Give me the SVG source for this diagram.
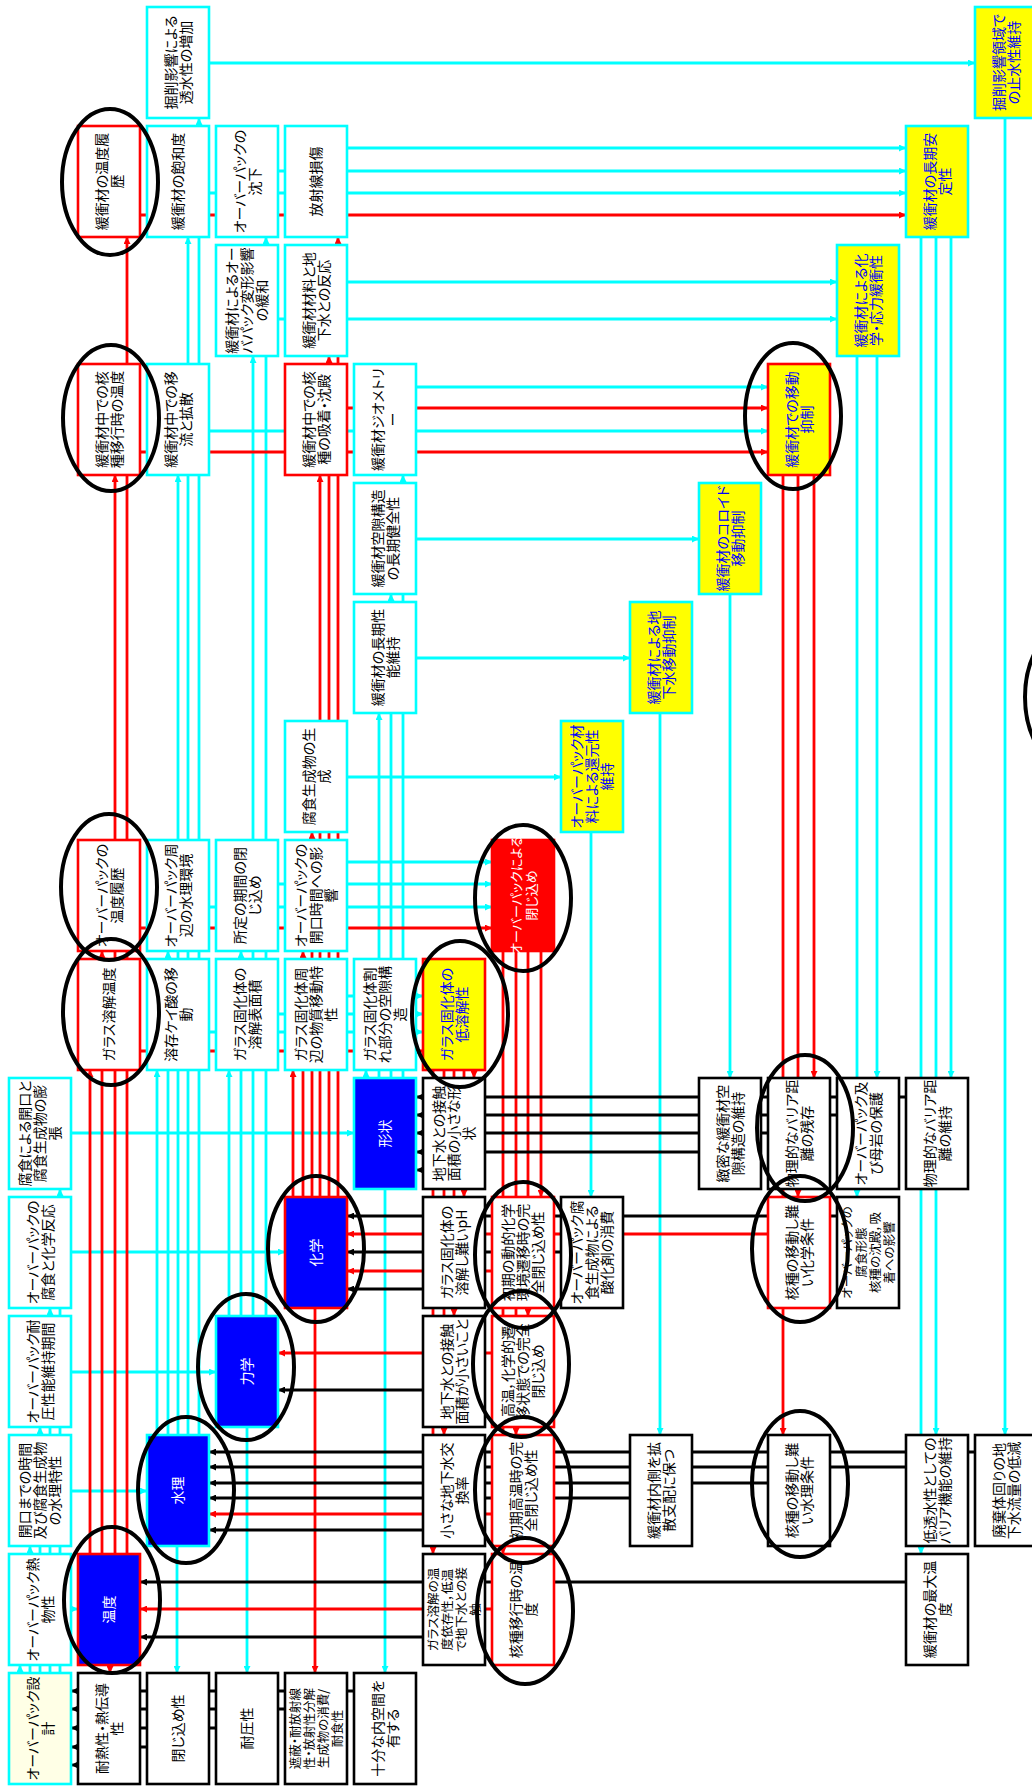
<svg xmlns="http://www.w3.org/2000/svg" width="1032" height="1786" viewBox="0 0 1032 1786">
<defs>
<style>
.bx{stroke-width:2.6}
.c{fill:#fff;stroke:#00FFFF}
.r{fill:#fff;stroke:#FF0000}
.k{fill:#fff;stroke:#000}
.y{fill:#FFFF00;stroke:#00FFFF}
.yr{fill:#FFFF00;stroke:#FF0000}
.bc{fill:#0000FF;stroke:#00FFFF}
.br{fill:#0000FF;stroke:#FF0000}
.rf{fill:#FF0000;stroke:#FF0000}
.py{fill:#FFFFE6;stroke:#00FFFF}
text{font-family:"Noto Sans CJK JP","Noto Sans CJK SC",sans-serif;font-size:14px;fill:#000;text-anchor:middle;font-feature-settings:"palt" 1}
.tb{fill:#0000FF}
.tw{fill:#fff}
.sm{font-size:12.5px}
.lc{fill:none;stroke:#00FFFF;stroke-width:2.8;marker-end:url(#ac)}
.lr{fill:none;stroke:#FF0000;stroke-width:2.8;marker-end:url(#ar)}
.lk{fill:none;stroke:#000;stroke-width:2.8;marker-end:url(#ak)}
.el{fill:none;stroke:#000;stroke-width:4}
</style>
<marker id="ac" viewBox="0 0 8 8" refX="8" refY="4" markerWidth="7" markerHeight="7" markerUnits="userSpaceOnUse" orient="auto"><path d="M0,0L8,4L0,8z" fill="#00FFFF"/></marker>
<marker id="ar" viewBox="0 0 8 8" refX="8" refY="4" markerWidth="7" markerHeight="7" markerUnits="userSpaceOnUse" orient="auto"><path d="M0,0L8,4L0,8z" fill="#FF0000"/></marker>
<marker id="ak" viewBox="0 0 8 8" refX="8" refY="4" markerWidth="7" markerHeight="7" markerUnits="userSpaceOnUse" orient="auto"><path d="M0,0L8,4L0,8z" fill="#000"/></marker>
</defs>
<rect width="1032" height="1786" fill="#fff"/>

<g id="connectors">
<!-- cyan horizontal -->
<path class="lc" d="M209,63H975"/>
<path class="lc" d="M347,148H906"/>
<path class="lc" d="M278,171H906"/>
<path class="lc" d="M209,193H906"/>
<path class="lc" d="M347,282H837"/>
<path class="lc" d="M278,319H837"/>
<path class="lc" d="M416,387H768"/>
<path class="lc" d="M209,431H768"/>
<path class="lc" d="M416,539H699"/>
<path class="lc" d="M416,658H630"/>
<path class="lc" d="M347,777H561"/>
<path class="lc" d="M347,862H492"/>
<path class="lc" d="M278,884H492"/>
<path class="lc" d="M209,907H492"/>
<path class="lc" d="M347,996H423"/>
<path class="lc" d="M278,1014H423"/>
<path class="lc" d="M209,1032H423"/>
<path class="lc" d="M71,1133H354"/>
<path class="lc" d="M71,1252H285"/>
<path class="lc" d="M71,1372H216"/>
<path class="lc" d="M71,1491H147"/>
<path class="lc" d="M71,1609H78"/>
<!-- cyan vertical -->
<path class="lc" d="M20,1673V1665"/>
<path class="lc" d="M30,1673V1546"/>
<path class="lc" d="M40,1673V1427"/>
<path class="lc" d="M50,1673V1308"/>
<path class="lc" d="M60,1673V1189"/>
<path class="lc" d="M157,1435V1070"/>
<path class="lc" d="M168,1435V951"/>
<path class="lc" d="M178,1435V475"/>
<path class="lc" d="M188,1435V237"/>
<path class="lc" d="M199,1435V118"/>
<path class="lc" d="M177,1546V1673"/>
<path class="lc" d="M229,1316V1070"/>
<path class="lc" d="M241,1316V951"/>
<path class="lc" d="M253,1316V356"/>
<path class="lc" d="M266,1316V237"/>
<path class="lc" d="M247,1427V1673"/>
<path class="lc" d="M366,1078V1070"/>
<path class="lc" d="M379,1078V713"/>
<path class="lc" d="M391,1078V594"/>
<path class="lc" d="M403,1078V475"/>
<path class="lc" d="M385,1189V1673"/>
<path class="lc" d="M591,832V1197"/>
<path class="lc" d="M660,713V1435"/>
<path class="lc" d="M730,594V1078"/>
<path class="lc" d="M877,356V1078"/>
<path class="lc" d="M857,356V1197"/>
<path class="lc" d="M951,237V1078"/>
<path class="lc" d="M936,237V1435"/>
<path class="lc" d="M921,237V1554"/>
<path class="lc" d="M1005,118V1435"/>
<!-- red -->
<path class="lr" d="M140,215H906"/>
<path class="lr" d="M347,408H768"/>
<path class="lr" d="M140,452H768"/>
<path class="lr" d="M140,928H492"/>
<path class="lr" d="M140,1051H423"/>
<path class="lr" d="M768,1234H347"/>
<path class="lr" d="M492,1271H347"/>
<path class="lr" d="M492,1353H278"/>
<path class="lr" d="M492,1514H209"/>
<path class="lr" d="M492,1609H140"/>
<path class="lr" d="M90,1554V1070"/>
<path class="lr" d="M102,1554V951"/>
<path class="lr" d="M115,1554V475"/>
<path class="lr" d="M127,1554V237"/>
<path class="lr" d="M110,1665V1673"/>
<path class="lr" d="M293,1197V1070"/>
<path class="lr" d="M303,1197V951"/>
<path class="lr" d="M312,1197V832"/>
<path class="lr" d="M320,1197V475"/>
<path class="lr" d="M329,1197V356"/>
<path class="lr" d="M338,1197V237"/>
<path class="lr" d="M315,1308V1673"/>
<path class="lr" d="M474,1070V1078"/>
<path class="lr" d="M464,1070V1197"/>
<path class="lr" d="M454,1070V1316"/>
<path class="lr" d="M444,1070V1435"/>
<path class="lr" d="M433,1070V1554"/>
<path class="lr" d="M541,951V1197"/>
<path class="lr" d="M528,951V1316"/>
<path class="lr" d="M516,951V1435"/>
<path class="lr" d="M503,951V1554"/>
<path class="lr" d="M814,475V1078"/>
<path class="lr" d="M798,475V1197"/>
<path class="lr" d="M783,475V1435"/>
<!-- black -->
<path class="lk" d="M906,1097H416"/>
<path class="lk" d="M837,1115H416"/>
<path class="lk" d="M768,1133H416"/>
<path class="lk" d="M699,1152H416"/>
<path class="lk" d="M423,1170H416"/>
<path class="lk" d="M837,1216H347"/>
<path class="lk" d="M561,1252H347"/>
<path class="lk" d="M423,1289H347"/>
<path class="lk" d="M423,1390H278"/>
<path class="lk" d="M975,1452H209"/>
<path class="lk" d="M906,1467H209"/>
<path class="lk" d="M768,1483H209"/>
<path class="lk" d="M630,1498H209"/>
<path class="lk" d="M423,1530H209"/>
<path class="lk" d="M906,1582H140"/>
<path class="lk" d="M423,1637H140"/>
<path class="lk" d="M354,1691H71"/>
<path class="lk" d="M285,1709H71"/>
<path class="lk" d="M216,1728H71"/>
<path class="lk" d="M147,1747H71"/>
<path class="lk" d="M78,1765H71"/>
</g>

<g id="n_r0c2"><rect class="bx c" x="147" y="7" width="62" height="111"/><text transform="rotate(-90 178 62.5)"><tspan x="178" y="60">掘削影響による</tspan><tspan x="178" y="75">透水性の増加</tspan></text></g>
<g id="n_r0c14"><rect class="bx y" x="975" y="7" width="62" height="111"/><text class="tb" transform="rotate(-90 1006 62.5)"><tspan x="1006" y="60">掘削影響領域で</tspan><tspan x="1006" y="75">の止水性維持</tspan></text></g>

<g id="n_r1c1"><rect class="bx r" x="78" y="126" width="62" height="111"/><text transform="rotate(-90 109 181.5)"><tspan x="109" y="179">緩衝材の温度履</tspan><tspan x="109" y="194">歴</tspan></text></g>
<g id="n_r1c2"><rect class="bx c" x="147" y="126" width="62" height="111"/><text transform="rotate(-90 178 181.5)"><tspan x="178" y="186.5">緩衝材の飽和度</tspan></text></g>
<g id="n_r1c3"><rect class="bx c" x="216" y="126" width="62" height="111"/><text transform="rotate(-90 247 181.5)"><tspan x="247" y="179">オーバーパックの</tspan><tspan x="247" y="194">沈下</tspan></text></g>
<g id="n_r1c4"><rect class="bx c" x="285" y="126" width="62" height="111"/><text transform="rotate(-90 316 181.5)"><tspan x="316" y="186.5">放射線損傷</tspan></text></g>
<g id="n_r1c13"><rect class="bx y" x="906" y="126" width="62" height="111"/><text class="tb" transform="rotate(-90 937 181.5)"><tspan x="937" y="179">緩衝材の長期安</tspan><tspan x="937" y="194">定性</tspan></text></g>

<g id="n_r2c3"><rect class="bx c" x="216" y="245" width="62" height="111"/><text transform="rotate(-90 247 300.5)"><tspan x="247" y="290.5">緩衝材によるオー</tspan><tspan x="247" y="305.5">バパック変形影響</tspan><tspan x="247" y="320.5">の緩和</tspan></text></g>
<g id="n_r2c4"><rect class="bx c" x="285" y="245" width="62" height="111"/><text transform="rotate(-90 316 300.5)"><tspan x="316" y="298">緩衝材材料と地</tspan><tspan x="316" y="313">下水との反応</tspan></text></g>
<g id="n_r2c12"><rect class="bx y" x="837" y="245" width="62" height="111"/><text class="tb" transform="rotate(-90 868 300.5)"><tspan x="868" y="298">緩衝材による化</tspan><tspan x="868" y="313">学・応力緩衝性</tspan></text></g>

<g id="n_r3c1"><rect class="bx r" x="78" y="364" width="62" height="111"/><text transform="rotate(-90 109 419.5)"><tspan x="109" y="417">緩衝材中での核</tspan><tspan x="109" y="432">種移行時の温度</tspan></text></g>
<g id="n_r3c2"><rect class="bx c" x="147" y="364" width="62" height="111"/><text transform="rotate(-90 178 419.5)"><tspan x="178" y="417">緩衝材中での移</tspan><tspan x="178" y="432">流と拡散</tspan></text></g>
<g id="n_r3c4"><rect class="bx r" x="285" y="364" width="62" height="111"/><text transform="rotate(-90 316 419.5)"><tspan x="316" y="417">緩衝材中での核</tspan><tspan x="316" y="432">種の吸着・沈殿</tspan></text></g>
<g id="n_r3c5"><rect class="bx c" x="354" y="364" width="62" height="111"/><text transform="rotate(-90 385 419.5)"><tspan x="385" y="417">緩衝材ジオメトリ</tspan><tspan x="385" y="432">ー</tspan></text></g>
<g id="n_r3c11"><rect class="bx yr" x="768" y="364" width="62" height="111"/><text class="tb" transform="rotate(-90 799 419.5)"><tspan x="799" y="417">緩衝材での移動</tspan><tspan x="799" y="432">抑制</tspan></text></g>

<g id="n_r4c5"><rect class="bx c" x="354" y="483" width="62" height="111"/><text transform="rotate(-90 385 538.5)"><tspan x="385" y="536">緩衝材空隙構造</tspan><tspan x="385" y="551">の長期健全性</tspan></text></g>
<g id="n_r4c10"><rect class="bx y" x="699" y="483" width="62" height="111"/><text class="tb" transform="rotate(-90 730 538.5)"><tspan x="730" y="536">緩衝材のコロイド</tspan><tspan x="730" y="551">移動抑制</tspan></text></g>

<g id="n_r5c5"><rect class="bx c" x="354" y="602" width="62" height="111"/><text transform="rotate(-90 385 657.5)"><tspan x="385" y="655">緩衝材の長期性</tspan><tspan x="385" y="670">能維持</tspan></text></g>
<g id="n_r5c9"><rect class="bx y" x="630" y="602" width="62" height="111"/><text class="tb" transform="rotate(-90 661 657.5)"><tspan x="661" y="655">緩衝材による地</tspan><tspan x="661" y="670">下水移動抑制</tspan></text></g>

<g id="n_r6c4"><rect class="bx c" x="285" y="721" width="62" height="111"/><text transform="rotate(-90 316 776.5)"><tspan x="316" y="774">腐食生成物の生</tspan><tspan x="316" y="789">成</tspan></text></g>
<g id="n_r6c8"><rect class="bx y" x="561" y="721" width="62" height="111"/><text class="tb" transform="rotate(-90 592 776.5)"><tspan x="592" y="766.5">オーバーパック材</tspan><tspan x="592" y="781.5">料による還元性</tspan><tspan x="592" y="796.5">維持</tspan></text></g>

<g id="n_r7c1"><rect class="bx r" x="78" y="840" width="62" height="111"/><text transform="rotate(-90 109 895.5)"><tspan x="109" y="893">オーバーパックの</tspan><tspan x="109" y="908">温度履歴</tspan></text></g>
<g id="n_r7c2"><rect class="bx c" x="147" y="840" width="62" height="111"/><text transform="rotate(-90 178 895.5)"><tspan x="178" y="893">オーバーパック周</tspan><tspan x="178" y="908">辺の水理環境</tspan></text></g>
<g id="n_r7c3"><rect class="bx c" x="216" y="840" width="62" height="111"/><text transform="rotate(-90 247 895.5)"><tspan x="247" y="893">所定の期間の閉</tspan><tspan x="247" y="908">じ込め</tspan></text></g>
<g id="n_r7c4"><rect class="bx c" x="285" y="840" width="62" height="111"/><text transform="rotate(-90 316 895.5)"><tspan x="316" y="885.5">オーバーパックの</tspan><tspan x="316" y="900.5">開口時間への影</tspan><tspan x="316" y="915.5">響</tspan></text></g>
<g id="n_r7c7"><rect class="bx rf" x="492" y="840" width="62" height="111"/><text class="tw" style="font-size:13px" transform="rotate(-90 523 895.5)"><tspan x="523" y="893">オーバーパックによる</tspan><tspan x="523" y="908">閉じ込め</tspan></text></g>

<g id="n_r8c1"><rect class="bx r" x="78" y="959" width="62" height="111"/><text transform="rotate(-90 109 1014.5)"><tspan x="109" y="1019.5">ガラス溶解温度</tspan></text></g>
<g id="n_r8c2"><rect class="bx c" x="147" y="959" width="62" height="111"/><text transform="rotate(-90 178 1014.5)"><tspan x="178" y="1012">溶存ケイ酸の移</tspan><tspan x="178" y="1027">動</tspan></text></g>
<g id="n_r8c3"><rect class="bx c" x="216" y="959" width="62" height="111"/><text transform="rotate(-90 247 1014.5)"><tspan x="247" y="1012">ガラス固化体の</tspan><tspan x="247" y="1027">溶解表面積</tspan></text></g>
<g id="n_r8c4"><rect class="bx c" x="285" y="959" width="62" height="111"/><text transform="rotate(-90 316 1014.5)"><tspan x="316" y="1004.5">ガラス固化体周</tspan><tspan x="316" y="1019.5">辺の物質移動特</tspan><tspan x="316" y="1034.5">性</tspan></text></g>
<g id="n_r8c5"><rect class="bx c" x="354" y="959" width="62" height="111"/><text transform="rotate(-90 385 1014.5)"><tspan x="385" y="1004.5">ガラス固化体割</tspan><tspan x="385" y="1019.5">れ部分の空隙構</tspan><tspan x="385" y="1034.5">造</tspan></text></g>
<g id="n_r8c6"><rect class="bx yr" x="423" y="959" width="62" height="111"/><text class="tb" transform="rotate(-90 454 1014.5)"><tspan x="454" y="1012">ガラス固化体の</tspan><tspan x="454" y="1027">低溶解性</tspan></text></g>

<g id="n_r9c0"><rect class="bx c" x="9" y="1078" width="62" height="111"/><text transform="rotate(-90 40 1133.5)"><tspan x="40" y="1123.5">腐食による開口と</tspan><tspan x="40" y="1138.5">腐食生成物の膨</tspan><tspan x="40" y="1153.5">張</tspan></text></g>
<g id="n_r9c5"><rect class="bx bc" x="354" y="1078" width="62" height="111"/><text class="tw" transform="rotate(-90 385 1133.5)"><tspan x="385" y="1138.5">形状</tspan></text></g>
<g id="n_r9c6"><rect class="bx k" x="423" y="1078" width="62" height="111"/><text transform="rotate(-90 454 1133.5)"><tspan x="454" y="1123.5">地下水との接触</tspan><tspan x="454" y="1138.5">面積の小さな形</tspan><tspan x="454" y="1153.5">状</tspan></text></g>
<g id="n_r9c10"><rect class="bx k" x="699" y="1078" width="62" height="111"/><text transform="rotate(-90 730 1133.5)"><tspan x="730" y="1131">緻密な緩衝材空</tspan><tspan x="730" y="1146">隙構造の維持</tspan></text></g>
<g id="n_r9c11"><rect class="bx k" x="768" y="1078" width="62" height="111"/><text transform="rotate(-90 799 1133.5)"><tspan x="799" y="1131">物理的なバリア距</tspan><tspan x="799" y="1146">離の残存</tspan></text></g>
<g id="n_r9c12"><rect class="bx k" x="837" y="1078" width="62" height="111"/><text transform="rotate(-90 868 1133.5)"><tspan x="868" y="1131">オーバーパック及</tspan><tspan x="868" y="1146">び母岩の保護</tspan></text></g>
<g id="n_r9c13"><rect class="bx k" x="906" y="1078" width="62" height="111"/><text transform="rotate(-90 937 1133.5)"><tspan x="937" y="1131">物理的なバリア距</tspan><tspan x="937" y="1146">離の維持</tspan></text></g>

<g id="n_r10c0"><rect class="bx c" x="9" y="1197" width="62" height="111"/><text transform="rotate(-90 40 1252.5)"><tspan x="40" y="1250">オーバーパックの</tspan><tspan x="40" y="1265">腐食と化学反応</tspan></text></g>
<g id="n_r10c4"><rect class="bx br" x="285" y="1197" width="62" height="111"/><text class="tw" transform="rotate(-90 316 1252.5)"><tspan x="316" y="1257.5">化学</tspan></text></g>
<g id="n_r10c6"><rect class="bx k" x="423" y="1197" width="62" height="111"/><text transform="rotate(-90 454 1252.5)"><tspan x="454" y="1250">ガラス固化体の</tspan><tspan x="454" y="1265">溶解し難いpH</tspan></text></g>
<g id="n_r10c7"><rect class="bx r" x="492" y="1197" width="62" height="111"/><text transform="rotate(-90 523 1252.5)"><tspan x="523" y="1242.5">初期の動的化学</tspan><tspan x="523" y="1257.5">環境遷移時の完</tspan><tspan x="523" y="1272.5">全閉じ込め性</tspan></text></g>
<g id="n_r10c8"><rect class="bx k" x="561" y="1197" width="62" height="111"/><text transform="rotate(-90 592 1252.5)"><tspan x="592" y="1242.5">オーバーパック腐</tspan><tspan x="592" y="1257.5">食生成物による</tspan><tspan x="592" y="1272.5">酸化剤の消費</tspan></text></g>
<g id="n_r10c11"><rect class="bx r" x="768" y="1197" width="62" height="111"/><text transform="rotate(-90 799 1252.5)"><tspan x="799" y="1250">核種の移動し難</tspan><tspan x="799" y="1265">い化学条件</tspan></text></g>
<g id="n_r10c12"><rect class="bx k" x="837" y="1197" width="62" height="111"/><text class="sm" transform="rotate(-90 868 1252.5)"><tspan x="868" y="1236.5">オーバーパックの</tspan><tspan x="868" y="1250.5">腐食形態</tspan><tspan x="868" y="1264.5">核種の沈殿，吸</tspan><tspan x="868" y="1278.5">着への影響</tspan></text></g>

<g id="n_r11c0"><rect class="bx c" x="9" y="1316" width="62" height="111"/><text transform="rotate(-90 40 1371.5)"><tspan x="40" y="1369">オーバーパック耐</tspan><tspan x="40" y="1384">圧性能維持期間</tspan></text></g>
<g id="n_r11c3"><rect class="bx bc" x="216" y="1316" width="62" height="111"/><text class="tw" transform="rotate(-90 247 1371.5)"><tspan x="247" y="1376.5">力学</tspan></text></g>
<g id="n_r11c6"><rect class="bx k" x="423" y="1316" width="62" height="111"/><text transform="rotate(-90 454 1371.5)"><tspan x="454" y="1369">地下水との接触</tspan><tspan x="454" y="1384">面積が小さいこと</tspan></text></g>
<g id="n_r11c7"><rect class="bx r" x="492" y="1316" width="62" height="111"/><text transform="rotate(-90 523 1371.5)"><tspan x="523" y="1361.5">高温，化学的遷</tspan><tspan x="523" y="1376.5">移状態での完全</tspan><tspan x="523" y="1391.5">閉じ込め</tspan></text></g>

<g id="n_r12c0"><rect class="bx c" x="9" y="1435" width="62" height="111"/><text transform="rotate(-90 40 1490.5)"><tspan x="40" y="1480.5">開口までの時間</tspan><tspan x="40" y="1495.5">及び腐食生成物</tspan><tspan x="40" y="1510.5">の水理特性</tspan></text></g>
<g id="n_r12c2"><rect class="bx bc" x="147" y="1435" width="62" height="111"/><text class="tw" transform="rotate(-90 178 1490.5)"><tspan x="178" y="1495.5">水理</tspan></text></g>
<g id="n_r12c6"><rect class="bx k" x="423" y="1435" width="62" height="111"/><text transform="rotate(-90 454 1490.5)"><tspan x="454" y="1488">小さな地下水交</tspan><tspan x="454" y="1503">換率</tspan></text></g>
<g id="n_r12c7"><rect class="bx r" x="492" y="1435" width="62" height="111"/><text transform="rotate(-90 523 1490.5)"><tspan x="523" y="1488">初期高温時の完</tspan><tspan x="523" y="1503">全閉じ込め性</tspan></text></g>
<g id="n_r12c9"><rect class="bx k" x="630" y="1435" width="62" height="111"/><text transform="rotate(-90 661 1490.5)"><tspan x="661" y="1488">緩衝材内側を拡</tspan><tspan x="661" y="1503">散支配に保つ</tspan></text></g>
<g id="n_r12c11"><rect class="bx k" x="768" y="1435" width="62" height="111"/><text transform="rotate(-90 799 1490.5)"><tspan x="799" y="1488">核種の移動し難</tspan><tspan x="799" y="1503">い水理条件</tspan></text></g>
<g id="n_r12c13"><rect class="bx k" x="906" y="1435" width="62" height="111"/><text transform="rotate(-90 937 1490.5)"><tspan x="937" y="1488">低透水性としての</tspan><tspan x="937" y="1503">バリア機能の維持</tspan></text></g>
<g id="n_r12c14"><rect class="bx k" x="975" y="1435" width="62" height="111"/><text transform="rotate(-90 1006 1490.5)"><tspan x="1006" y="1488">廃棄体回りの地</tspan><tspan x="1006" y="1503">下水流量の低減</tspan></text></g>

<g id="n_r13c0"><rect class="bx c" x="9" y="1554" width="62" height="111"/><text transform="rotate(-90 40 1609.5)"><tspan x="40" y="1607">オーバーパック熱</tspan><tspan x="40" y="1622">物性</tspan></text></g>
<g id="n_r13c1"><rect class="bx br" x="78" y="1554" width="62" height="111"/><text class="tw" transform="rotate(-90 109 1609.5)"><tspan x="109" y="1614.5">温度</tspan></text></g>
<g id="n_r13c6"><rect class="bx k" x="423" y="1554" width="62" height="111"/><text class="sm" transform="rotate(-90 454 1609.5)"><tspan x="454" y="1593.5">ガラス溶解の温</tspan><tspan x="454" y="1607.5">度依存性，低温</tspan><tspan x="454" y="1621.5">で地下水との接</tspan><tspan x="454" y="1635.5">触</tspan></text></g>
<g id="n_r13c7"><rect class="bx r" x="492" y="1554" width="62" height="111"/><text transform="rotate(-90 523 1609.5)"><tspan x="523" y="1607">核種移行時の温</tspan><tspan x="523" y="1622">度</tspan></text></g>
<g id="n_r13c13"><rect class="bx k" x="906" y="1554" width="62" height="111"/><text transform="rotate(-90 937 1609.5)"><tspan x="937" y="1607">緩衝材の最大温</tspan><tspan x="937" y="1622">度</tspan></text></g>

<g id="n_r14c0"><rect class="bx py" x="9" y="1673" width="62" height="111"/><text transform="rotate(-90 40 1728.5)"><tspan x="40" y="1726">オーバーパック設</tspan><tspan x="40" y="1741">計</tspan></text></g>
<g id="n_r14c1"><rect class="bx k" x="78" y="1673" width="62" height="111"/><text transform="rotate(-90 109 1728.5)"><tspan x="109" y="1726">耐熱性・熱伝導</tspan><tspan x="109" y="1741">性</tspan></text></g>
<g id="n_r14c2"><rect class="bx k" x="147" y="1673" width="62" height="111"/><text transform="rotate(-90 178 1728.5)"><tspan x="178" y="1733.5">閉じ込め性</tspan></text></g>
<g id="n_r14c3"><rect class="bx k" x="216" y="1673" width="62" height="111"/><text transform="rotate(-90 247 1728.5)"><tspan x="247" y="1733.5">耐圧性</tspan></text></g>
<g id="n_r14c4"><rect class="bx k" x="285" y="1673" width="62" height="111"/><text class="sm" transform="rotate(-90 316 1728.5)"><tspan x="316" y="1712.5">遮蔽・耐放射線</tspan><tspan x="316" y="1726.5">性・放射性分解</tspan><tspan x="316" y="1740.5">生成物の消費/</tspan><tspan x="316" y="1754.5">耐食性</tspan></text></g>
<g id="n_r14c5"><rect class="bx k" x="354" y="1673" width="62" height="111"/><text transform="rotate(-90 385 1728.5)"><tspan x="385" y="1726">十分な内空間を</tspan><tspan x="385" y="1741">有する</tspan></text></g>

<g id="highlights">
<ellipse class="el" cx="110" cy="182" rx="48" ry="73"/>
<ellipse class="el" cx="111" cy="418" rx="48" ry="73"/>
<ellipse class="el" cx="109" cy="887" rx="48" ry="73"/>
<ellipse class="el" cx="111" cy="1012" rx="48" ry="73"/>
<ellipse class="el" cx="112" cy="1600" rx="48" ry="73"/>
<ellipse class="el" cx="186" cy="1490" rx="48" ry="73"/>
<ellipse class="el" cx="246" cy="1367" rx="48" ry="73"/>
<ellipse class="el" cx="316" cy="1249" rx="48" ry="73"/>
<ellipse class="el" cx="460" cy="1014" rx="48" ry="73"/>
<ellipse class="el" cx="523" cy="898" rx="48" ry="73"/>
<ellipse class="el" cx="523" cy="1255" rx="48" ry="73"/>
<ellipse class="el" cx="521" cy="1364" rx="48" ry="73"/>
<ellipse class="el" cx="523" cy="1490" rx="48" ry="73"/>
<ellipse class="el" cx="525" cy="1611" rx="48" ry="73"/>
<ellipse class="el" cx="793" cy="416" rx="48" ry="73"/>
<ellipse class="el" cx="805" cy="1128" rx="48" ry="73"/>
<ellipse class="el" cx="800" cy="1249" rx="48" ry="73"/>
<ellipse class="el" cx="800" cy="1484" rx="48" ry="73"/>
<ellipse class="el" cx="1073" cy="697" rx="48" ry="73"/>
</g>
</svg>
